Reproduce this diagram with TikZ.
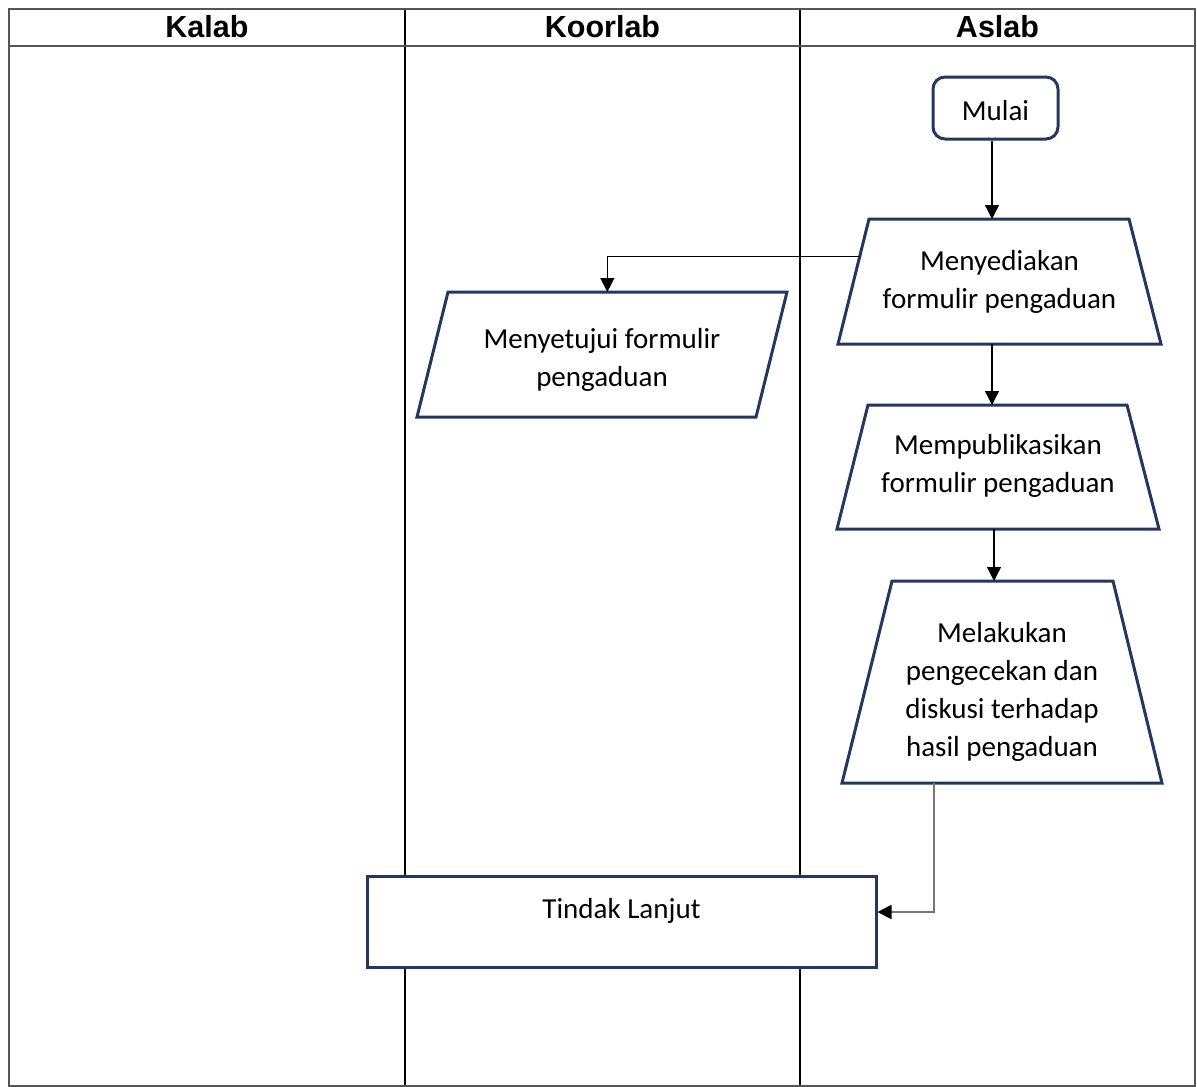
\documentclass[tikz,border=0pt]{standalone}
\usepackage{fontspec}
\setmainfont{Carlito}
\newfontfamily\hdfont{Liberation Sans}
\usetikzlibrary{arrows.meta,calc,backgrounds}
\definecolor{navy}{RGB}{35,55,95}
\definecolor{bordergray}{RGB}{85,85,85}
\definecolor{conngray}{RGB}{120,120,120}
\tikzset{
  lane/.style={line width=1.4pt, draw=black},
  frame/.style={line width=2pt, draw=bordergray},
  hdr/.style={font=\hdfont\bfseries\fontsize{30.5}{34}\selectfont, anchor=base, inner sep=0pt},
  txt/.style={font=\fontsize{29}{38}\selectfont, align=center, text=black, inner sep=0pt},
  shp/.style={draw=navy, line width=3pt, fill=white},
  area/.style={inner sep=0pt, outer sep=0pt},
  conn/.style={line width=1.3pt, draw=black, -{Triangle[length=14pt,width=14pt]}},
}
\begin{document}
\begin{tikzpicture}[x=1pt,y=-1pt]
\useasboundingbox (0,0) rectangle (1197,1087);
% headers
\node[hdr] (hKalab) at (207,37) {Kalab};
\node[hdr] (hKoorlab) at (602.5,37) {Koorlab};
\node[hdr] (hAslab) at (997.5,37) {Aslab};
% shapes (areas) and texts
\node[shp, rounded corners=12pt, minimum width=125pt, minimum height=62pt, inner sep=0pt] (mulai) at (995.5,108) {};
\node[txt] (mulaiTxt) at (995.5,111) {Mulai};
\node[area, minimum width=323pt, minimum height=125pt] (sedia) at (999.5,281.5) {};
\node[txt] (sediaTxt) at (999.5,281.5) {Menyediakan\\formulir pengaduan};
\node[area, minimum width=370pt, minimum height=125pt] (setuju) at (602,354.5) {};
\node[txt] (setujuTxt) at (602,359.5) {Menyetujui formulir\\pengaduan};
\node[area, minimum width=322pt, minimum height=124pt] (publik) at (998,467) {};
\node[txt] (publikTxt) at (998,465.5) {Mempublikasikan\\formulir pengaduan};
\node[area, minimum width=320pt, minimum height=202pt] (lakukan) at (1002,682) {};
\node[txt] (lakukanTxt) at (1002,692) {Melakukan\\pengecekan dan\\diskusi terhadap\\hasil pengaduan};
\node[shp, rectangle, minimum width=509pt, minimum height=91pt, inner sep=0pt] (tindak) at (621.5,921.5) {};
\node[txt] (tindakTxt) at (621.5,911) {Tindak Lanjut};
\begin{scope}[on background layer]
  \draw[lane] (405,8.5) -- (405,1086);
  \draw[lane] (800,8.5) -- (800,1086);
  \draw[frame] (9,46) -- (1195,46);
  \draw[frame] (9,8.5) rectangle (1195,1086);
  \draw[shp] ([xshift=31pt]sedia.north west) -- ([xshift=-32pt]sedia.north east) -- (sedia.south east) -- (sedia.south west) -- cycle;
  \draw[shp] ([xshift=31pt]setuju.north west) -- (setuju.north east) -- ([xshift=-31pt]setuju.south east) -- (setuju.south west) -- cycle;
  \draw[shp] ([xshift=31pt]publik.north west) -- ([xshift=-32pt]publik.north east) -- (publik.south east) -- (publik.south west) -- cycle;
  \draw[shp] ([xshift=50pt]lakukan.north west) -- ([xshift=-49pt]lakukan.north east) -- (lakukan.south east) -- (lakukan.south west) -- cycle;
\end{scope}
% connectors
\draw[conn] ([xshift=-3.5pt]mulai.south) -- ([xshift=-3.5pt]mulai.south |- sedia.north);
\coordinate (sediaLeft) at ($([xshift=31pt]sedia.north west)!0.3!(sedia.south west)$);
\coordinate (setujuIn) at ($([xshift=31pt]setuju.north west)!0.47!(setuju.north east)$);
\draw[conn] (sediaLeft) -| (setujuIn);
\draw[conn] ([xshift=-7.5pt]sedia.south) -- ([xshift=-7.5pt]sedia.south |- publik.north);
\draw[conn] ([xshift=-4pt]publik.south) -- ([xshift=-4pt]publik.south |- lakukan.north);
\coordinate (lakOut) at ($(lakukan.south west)!0.2875!(lakukan.south east)$);
\draw[conn, draw=conngray, line width=1.8pt, -{Triangle[length=14pt,width=14pt,color=black]}] (lakOut) |- ([yshift=9.5pt]tindak.east);
\end{tikzpicture}
\end{document}
